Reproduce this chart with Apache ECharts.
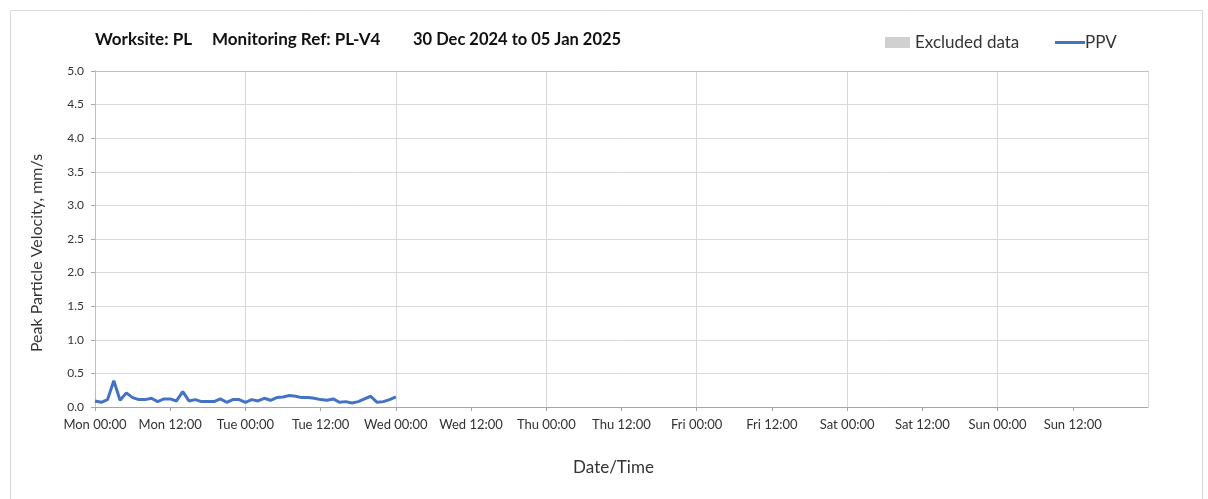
<!DOCTYPE html>
<html>
<head>
<meta charset="utf-8">
<script src="https://cdn.jsdelivr.net/npm/echarts@6/dist/echarts.min.js"></script>
<style>html,body{margin:0;padding:0;background:#fff;}#c{width:1208px;height:499px;}</style>
</head>
<body>
<div id="c"></div>
<script>
// ---- Data ----
const titleParts = ['Worksite: PL', 'Monitoring Ref: PL-V4', '30 Dec 2024 to 05 Jan 2025'];
const dayNames = ['Mon', 'Tue', 'Wed', 'Thu', 'Fri', 'Sat', 'Sun', 'Mon'];
// sample times: hours since Mon 30 Dec 2024 00:00
const sampleHours = [0,1,2,3,4,5,6,7,8,9,10,11,12,13,14,15,16,17,18,19,20,21,22,23,24,
  25,26,27,28,29,30,31,32,33,34,35,36,37,38,39,40,41,42,43,44,45,46,47,48];
const ppvValues = [0.09,0.07,0.11,0.39,0.10,0.21,0.14,0.11,0.11,0.13,0.08,0.12,0.12,0.09,0.23,0.09,0.11,0.08,0.08,0.08,0.12,0.07,0.11,0.11,0.07,
  0.11,0.09,0.13,0.10,0.14,0.15,0.17,0.16,0.14,0.14,0.13,0.11,0.10,0.12,0.07,0.08,0.06,0.08,0.12,0.16,0.07,0.08,0.11,0.15];
const excludedData = [];

const ppvSeries = sampleHours.map((h, i) => [h, ppvValues[i]]);
const font = 'Lato, "Open Sans", sans-serif';

function xLabel(h) {
  const d = Math.floor(h / 24);
  const hh = h % 24;
  return dayNames[d] + ' ' + (hh < 10 ? '0' + hh : hh) + ':00';
}

const titleStyle = { fontFamily: font, fontSize: 17, fontWeight: 'bold', color: '#111' };
const chart = echarts.init(document.getElementById('c'));
chart.setOption({
  animation: false,
  backgroundColor: '#fff',
  graphic: [{
    type: 'rect', left: 8, top: 8, shape: { width: 1192, height: 500 },
    style: { fill: 'none', stroke: '#d9d9d9', lineWidth: 1 }, silent: true
  }],
  title: [
    { text: titleParts[0], left: 95, top: 31, padding: 0, textStyle: titleStyle },
    { text: titleParts[1], left: 212, top: 31, padding: 0, textStyle: titleStyle },
    { text: titleParts[2], left: 413, top: 31, padding: 0, textStyle: Object.assign({}, titleStyle, { fontSize: 16.5 }) }
  ],
  legend: [{
    data: [{ name: 'Excluded data', icon: 'rect' }],
    left: 885, top: 34, padding: 0, itemWidth: 25, itemHeight: 11, itemGap: 4,
    textStyle: { fontFamily: font, fontSize: 17, color: '#333', padding: [0, 0, 0, 0] }
  }, {
    data: [{ name: 'PPV', icon: 'rect' }],
    left: 1055, top: 34, padding: 0, itemWidth: 30, itemHeight: 3, itemGap: 0,
    textStyle: { fontFamily: font, fontSize: 17, color: '#333', padding: [0, 0, 0, -5] }
  }],
  grid: { left: 95, right: 60, top: 71, bottom: 92, containLabel: false },
  xAxis: [{
    type: 'value', min: 0, max: 168, interval: 12,
    name: 'Date/Time', nameLocation: 'middle', nameGap: 52,
    nameTextStyle: { fontFamily: font, fontSize: 17, color: '#333', padding: [0, 16, 0, 0] },
    axisLine: { show: true, lineStyle: { color: '#a6a6a6' } },
    axisTick: { show: true, length: 4, lineStyle: { color: '#a6a6a6' } },
    axisLabel: { showMaxLabel: false, margin: 11, fontFamily: font, fontSize: 13, color: '#333', formatter: v => xLabel(v) },
    splitLine: { show: false }
  }, {
    type: 'value', min: 0, max: 168, interval: 24, position: 'bottom',
    axisLine: { show: false }, axisTick: { show: false }, axisLabel: { show: false },
    splitLine: { show: true, lineStyle: { color: '#d9d9d9', width: 1 } }
  }, {
    type: 'value', min: 0, max: 168, interval: 168, position: 'top',
    axisLine: { show: true, lineStyle: { color: '#bfbfbf' } },
    axisTick: { show: false }, axisLabel: { show: false }, splitLine: { show: false }
  }],
  yAxis: [{
    type: 'value', min: 0, max: 5, interval: 0.5,
    name: 'Peak Particle Velocity, mm/s', nameLocation: 'middle', nameGap: 50, nameRotate: 90,
    nameTextStyle: { fontFamily: font, fontSize: 16, color: '#333', padding: [0, 28, 0, 0] },
    axisLine: { show: true, lineStyle: { color: '#a6a6a6' } },
    axisTick: { show: true, length: 4, lineStyle: { color: '#a6a6a6' } },
    axisLabel: { margin: 11, fontFamily: font, fontSize: 12, color: '#333', formatter: v => v.toFixed(1) },
    splitLine: { show: true, lineStyle: { color: '#d9d9d9', width: 1 } }
  }, {
    type: 'value', min: 0, max: 5, interval: 5, position: 'right',
    axisLine: { show: true, lineStyle: { color: '#bfbfbf' } },
    axisTick: { show: false }, axisLabel: { show: false }, splitLine: { show: false }
  }],
  series: [{
    name: 'Excluded data', type: 'bar', data: excludedData,
    itemStyle: { color: '#d0d0d0' }
  }, {
    name: 'PPV', type: 'line', data: ppvSeries, showSymbol: false, symbol: 'none',
    lineStyle: { color: '#4472c4', width: 3 }, itemStyle: { color: '#4472c4' }
  }]
});
</script>
</body>
</html>
